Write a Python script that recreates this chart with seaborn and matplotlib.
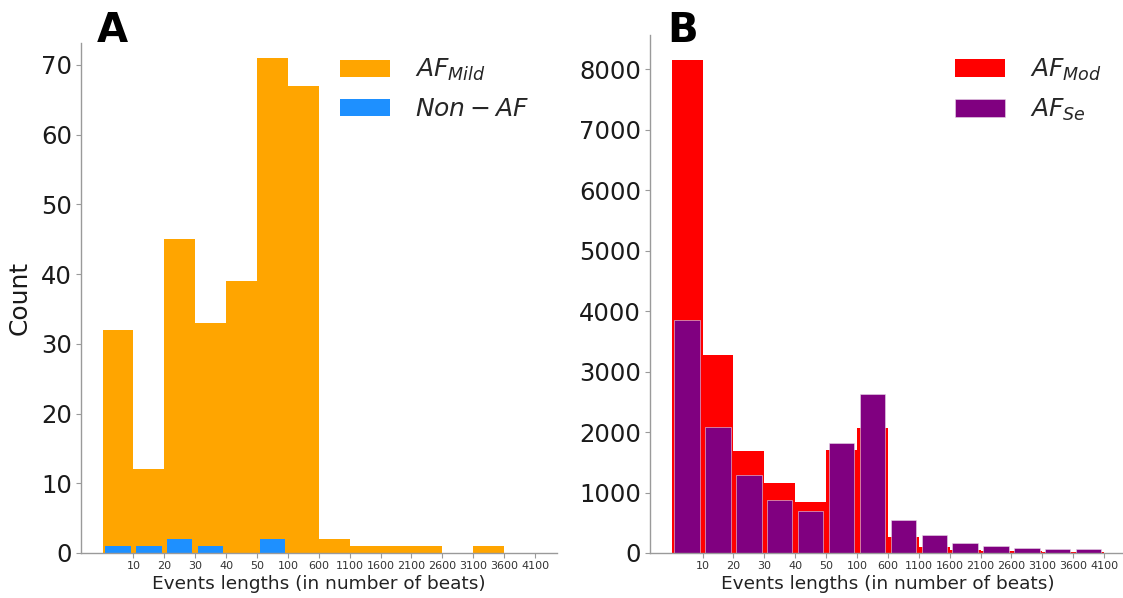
import numpy as np
import pandas as pd
import matplotlib
matplotlib.use("Agg")
import matplotlib.pyplot as plt
import seaborn as sns

# ---- data ----
tick_labels = ["10", "20", "30", "40", "50", "100", "600", "1100", "1600",
               "2100", "2600", "3100", "3600", "4100"]
# counts per bin (bins between consecutive boundaries: 0-10, 10-20, ..., 3600-4100)
af_mild = [32, 12, 45, 33, 39, 71, 67, 2, 1, 1, 1, 0, 1, 0]
non_af = [1, 1, 2, 1, 0, 2, 0, 0, 0, 0, 0, 0, 0, 0]
af_mod = [8160, 3270, 1680, 1150, 840, 1710, 2060, 270, 100, 50, 35, 25, 15, 10]
af_se = [3850, 2090, 1285, 875, 690, 1820, 2630, 540, 305, 170, 110, 75, 65, 60]

sns.set_style("white")
plt.rcParams["font.family"] = ["DejaVu Sans"]
plt.rcParams["mathtext.fontset"] = "dejavusans"

n_bins = len(af_mild)
df = pd.DataFrame({
    "pos": np.arange(n_bins) + 0.5,
    "af_mild": af_mild,
    "non_af": non_af,
    "af_mod": af_mod,
    "af_se": af_se,
})
hist_kw = dict(binwidth=1, binrange=(0, n_bins), alpha=1)

fig = plt.figure(figsize=(11.23, 5.98), dpi=100)
axA = fig.add_axes([0.0721, 0.0753, 0.4236, 0.8523])
axB = fig.add_axes([0.5788, 0.0753, 0.4236, 0.8662])

spine_col = "#9a9a9a"

def style(ax):
    sns.despine(ax=ax)
    for s in ("left", "bottom"):
        ax.spines[s].set_color(spine_col)
        ax.spines[s].set_linewidth(1.0)
    ax.tick_params(axis="both", which="both", color=spine_col, length=3.5,
                   width=0.8, left=True, bottom=True)
    ax.tick_params(axis="y", labelsize=17.5, labelcolor="#1a1a1a", pad=3)
    ax.tick_params(axis="x", labelsize=8, labelcolor="#333333", pad=2)
    ax.set_xticks(np.arange(1, n_bins + 1))
    ax.set_xticklabels(tick_labels)
    ax.set_xlim(-0.7, 14.7)
    ax.set_xlabel("Events lengths (in number of beats)", fontsize=13.3,
                  color="#222222", labelpad=3)

leg_kw = dict(loc="upper left", frameon=False, fontsize=18, handlelength=2.0,
              handletextpad=1.0, labelspacing=0.55, borderaxespad=0.0,
              borderpad=0.0)

# Panel A
sns.histplot(data=df, x="pos", weights="af_mild", ax=axA, color="orange",
             linewidth=0, label=r"$AF_{Mild}$", **hist_kw)
sns.histplot(data=df, x="pos", weights="non_af", ax=axA, color="dodgerblue",
             linewidth=0, shrink=0.82, label=r"$Non-AF$", **hist_kw)
style(axA)
axA.set_ylim(0, 73.1)
axA.set_yticks(np.arange(0, 71, 10))
axA.set_ylabel("Count", fontsize=18, color="#1a1a1a", labelpad=7)
axA.legend(bbox_to_anchor=((340 - 81) / 475.7, 1.0 - (57 - 43) / 509.7),
           **leg_kw)

# Panel B
sns.histplot(data=df, x="pos", weights="af_mod", ax=axB, color="red",
             linewidth=0, label=r"$AF_{Mod}$", **hist_kw)
sns.histplot(data=df, x="pos", weights="af_se", ax=axB, color="purple",
             linewidth=0.4, edgecolor="#e8d8e8", shrink=0.82,
             label=r"$AF_{Se}$", **hist_kw)
style(axB)
axB.set_ylim(0, 8568)
axB.set_yticks(np.arange(0, 8001, 1000))
axB.set_ylabel("")
axB.legend(bbox_to_anchor=((955 - 650) / 475.7, 1.0 - (57 - 35) / 518.0),
           **leg_kw)

fig.text(0.086, 0.93, "A", fontsize=29, fontweight="bold", va="baseline",
         color="black")
fig.text(0.594, 0.93, "B", fontsize=29, fontweight="bold", va="baseline",
         color="black")

fig.savefig("out.png", dpi=100)
